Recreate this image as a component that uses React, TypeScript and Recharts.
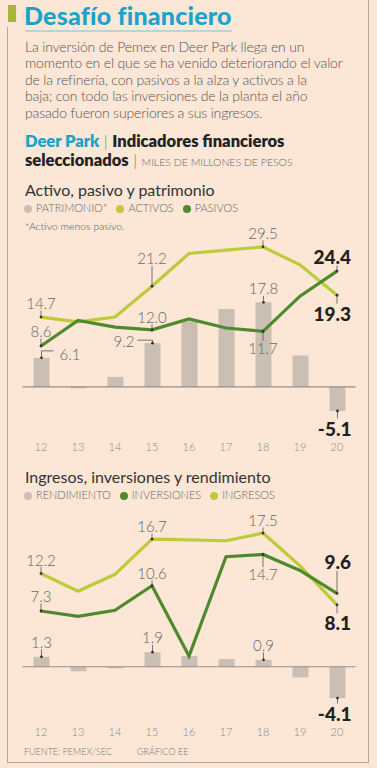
import React from 'react';
import { ComposedChart, Bar, Line, XAxis, YAxis, ReferenceLine, LabelList } from 'recharts';

const years = ['12', '13', '14', '15', '16', '17', '18', '19', '20'];

// Activo, pasivo y patrimonio (miles de millones de pesos)
const patrimonio = [6.1, -0.3, 2.1, 9.2, 13.8, 16.4, 17.8, 6.6, -5.1];
const activos = [14.7, 13.7, 14.7, 21.2, 28.1, 28.8, 29.5, 25.7, 19.3];
const pasivos = [8.6, 14.0, 12.6, 12.0, 14.3, 12.4, 11.7, 19.1, 24.4];

// Ingresos, inversiones y rendimiento
const rendimiento = [1.3, -0.6, -0.2, 1.9, 1.4, 1.0, 0.9, -1.4, -4.1];
const inversiones = [7.3, 6.6, 7.4, 10.6, 1.4, 14.4, 14.7, 12.6, 9.6];
const ingresos = [12.2, 9.9, 12.1, 16.7, 16.6, 16.5, 17.5, 13.2, 8.1];

const BG = '#fce6d5';
const LIGHT = '#bdcb3b';
const DARK = '#4e8a2d';
const BARC = '#cbbfb4';
const GREY = '#5e5e5e';
const FONT = 'Lato, "Open Sans", sans-serif';

type Note = { at: number; side: 'up' | 'down' | 'elbowR' | 'elbowL'; len?: number; bold?: boolean };

const notesPatrimonio: Note[] = [
  { at: 0, side: 'elbowR' },
  { at: 3, side: 'elbowL' },
  { at: 6, side: 'up' },
  { at: 8, side: 'down', len: 17, bold: true },
];
const notesActivos: Note[] = [
  { at: 0, side: 'up' },
  { at: 3, side: 'up', len: 28 },
  { at: 6, side: 'up' },
  { at: 8, side: 'down', len: 18, bold: true },
];
const notesPasivos: Note[] = [
  { at: 0, side: 'up', len: 15 },
  { at: 3, side: 'up', len: 13 },
  { at: 6, side: 'down', len: 17 },
  { at: 8, side: 'up', len: 15, bold: true },
];
const notesRend: Note[] = [
  { at: 0, side: 'up', len: 15 },
  { at: 3, side: 'up', len: 15 },
  { at: 6, side: 'up', len: 15 },
  { at: 8, side: 'down', len: 15, bold: true },
];
const notesInv: Note[] = [
  { at: 0, side: 'up', len: 15 },
  { at: 3, side: 'up', len: 13 },
  { at: 6, side: 'down', len: 20 },
  { at: 8, side: 'up', len: 32, bold: true },
];
const notesIng: Note[] = [
  { at: 0, side: 'up' },
  { at: 3, side: 'up', len: 13 },
  { at: 6, side: 'up', len: 13 },
  { at: 8, side: 'down', len: 18, bold: true },
];

const data1 = years.map((y, i) => ({ year: y, patrimonio: patrimonio[i], activos: activos[i], pasivos: pasivos[i] }));
const data2 = years.map((y, i) => ({ year: y, rendimiento: rendimiento[i], inversiones: inversiones[i], ingresos: ingresos[i] }));

function noteLabel(notes: Note[], bar: boolean) {
  return (props: any) => {
    const n = notes.find((k) => k.at === props.index);
    if (!n) return null;
    const vb = props.viewBox || {};
    const x0 = props.x ?? vb.x;
    const y0 = props.y ?? vb.y;
    const w = props.width ?? vb.width ?? 0;
    const h = props.height ?? vb.height ?? 0;
    const v = Number(props.value);
    let px = x0;
    let py = y0;
    if (bar) {
      px = x0 + w / 2;
      const top = Math.min(y0, y0 + h);
      const bot = Math.max(y0, y0 + h);
      py = v >= 0 ? top : bot;
    }
    const fs = n.bold ? 19 : 15;
    const txtStyle = {
      fontFamily: FONT,
      fontSize: fs,
      fontWeight: n.bold ? 900 : 300,
      fill: n.bold ? '#231f20' : '#666',
    };
    const txt = v.toFixed(1);
    const gap = n.len ?? 14;
    let path = '';
    let tx = px;
    let ty = py;
    let anchor: 'middle' | 'end' | 'start' = 'middle';
    if (n.side === 'up') {
      ty = py - gap;
      path = `M${px},${py}V${ty + fs * 0.5}`;
    } else if (n.side === 'down') {
      ty = py + gap;
      path = `M${px},${py}V${ty - fs * 0.5}`;
    } else if (n.side === 'elbowR') {
      ty = py - 4;
      path = `M${px},${py}V${py - 7}H${px + 12}`;
      tx = px + 18;
      anchor = 'start';
    } else {
      ty = py - 2;
      path = `M${px},${py}V${py - 3}H${px - 15}`;
      tx = px - 18;
      anchor = 'end';
    }
    if (n.bold) {
      tx = px + 14;
      anchor = 'end';
    }
    return (
      <g>
        <path d={path} stroke="#555" strokeWidth={0.8} fill="none" />
        <circle cx={px} cy={py} r={1.4} fill="#333" />
        <text x={tx} y={ty} textAnchor={anchor} dominantBaseline="central" style={txtStyle}>
          {txt}
        </text>
      </g>
    );
  };
}

function T({ x, cy, size, children, style }: { x: number; cy: number; size: number; children: React.ReactNode; style?: React.CSSProperties }) {
  return (
    <div
      style={{
        position: 'absolute',
        left: x,
        top: cy - size * 0.6,
        fontSize: size,
        lineHeight: `${size * 1.2}px`,
        whiteSpace: 'nowrap',
        ...style,
      }}
    >
      {children}
    </div>
  );
}

function Dot({ color }: { color: string }) {
  return (
    <span
      style={{
        display: 'inline-block',
        width: 8,
        height: 8,
        borderRadius: 4,
        background: color,
        marginRight: 4,
        verticalAlign: 'middle',
        position: 'relative',
        top: -1,
      }}
    />
  );
}

const tickStyle = { fill: '#8a8a8a', fontSize: 11, fontFamily: FONT, fontWeight: 300 };

export default function App() {
  const paragraph = [
    'La inversión de Pemex en Deer Park llega en un',
    'momento en el que se ha venido deteriorando el valor',
    'de la refinería, con pasivos a la alza y activos a la',
    'baja; con todo las inversiones de la planta el año',
    'pasado fueron superiores a sus ingresos.',
  ];
  return (
    <div
      style={{
        position: 'absolute',
        left: 0,
        top: 0,
        width: 377,
        height: 768,
        background: BG,
        overflow: 'hidden',
        fontFamily: FONT,
        color: GREY,
      }}
    >
      {/* frame */}
      <div style={{ position: 'absolute', left: 7, top: 27, width: 1, height: 736, background: '#b9a99d' }} />
      <div style={{ position: 'absolute', left: 368, top: 0, width: 1, height: 763, background: '#b9a99d' }} />
      <div style={{ position: 'absolute', left: 7, top: 762, width: 362, height: 1, background: '#b9a99d' }} />
      <div style={{ position: 'absolute', left: 8, top: 5, width: 8, height: 17, background: '#a9b536' }} />
      <div style={{ position: 'absolute', left: 25, top: 30, width: 207, height: 1.5, background: '#b9d3da' }} />

      <T x={24} cy={15} size={25} style={{ fontWeight: 900, color: '#1ba3cc', letterSpacing: 0.2 }}>
        Desafío financiero
      </T>
      {paragraph.map((l, i) => (
        <T key={i} x={25} cy={47 + i * 16.6} size={14} style={{ fontWeight: 300, color: '#555', letterSpacing: -0.15 }}>
          {l}
        </T>
      ))}

      <T x={25} cy={142} size={16.5} style={{ fontWeight: 800, color: '#222' }}>
        <span style={{ color: '#1ba3cc' }}>Deer Park</span>
        <span style={{ fontWeight: 300, color: '#777' }}> | </span>Indicadores financieros
      </T>
      <T x={25} cy={161} size={16.5} style={{ fontWeight: 800, color: '#222' }}>
        seleccionados
        <span style={{ fontWeight: 300, color: '#777' }}> | </span>
        <span style={{ fontWeight: 300, fontSize: 10.5, color: '#666' }}>MILES DE MILLONES DE PESOS</span>
      </T>

      <T x={25} cy={190} size={16} style={{ fontWeight: 400, color: '#333' }}>
        Activo, pasivo y patrimonio
      </T>
      <T x={24} cy={208} size={11} style={{ fontWeight: 300, color: '#666' }}>
        <Dot color={BARC} />
        PATRIMONIO*&nbsp;&nbsp;&nbsp;
        <Dot color={LIGHT} />
        ACTIVOS&nbsp;&nbsp;&nbsp;
        <Dot color={DARK} />
        PASIVOS
      </T>
      <T x={25} cy={226} size={10.5} style={{ fontWeight: 300, color: '#555' }}>
        *Activo menos pasivo.
      </T>

      <div style={{ position: 'absolute', left: 0, top: 215 }}>
        <ComposedChart width={377} height={250} data={data1} margin={{ top: 20, right: 21.5, left: 22.5, bottom: 0 }}>
          <XAxis dataKey="year" axisLine={false} tickLine={false} tickSize={0} tickMargin={4} height={26} tick={tickStyle} interval={0} />
          <YAxis hide domain={[-11, 32]} allowDataOverflow />
          <Bar dataKey="patrimonio" fill={BARC} barSize={16} isAnimationActive={false}>
            <LabelList dataKey="patrimonio" content={noteLabel(notesPatrimonio, true)} />
          </Bar>
          <ReferenceLine y={0} stroke="#978d86" strokeWidth={1.2} />
          <Line dataKey="activos" stroke={LIGHT} strokeWidth={3.2} dot={false} type="linear" isAnimationActive={false}>
            <LabelList dataKey="activos" content={noteLabel(notesActivos, false)} />
          </Line>
          <Line dataKey="pasivos" stroke={DARK} strokeWidth={3.2} dot={false} type="linear" isAnimationActive={false}>
            <LabelList dataKey="pasivos" content={noteLabel(notesPasivos, false)} />
          </Line>
        </ComposedChart>
      </div>

      <T x={25} cy={477} size={16} style={{ fontWeight: 400, color: '#333' }}>
        Ingresos, inversiones y rendimiento
      </T>
      <T x={24} cy={495} size={11} style={{ fontWeight: 300, color: '#666' }}>
        <Dot color={BARC} />
        RENDIMIENTO&nbsp;&nbsp;&nbsp;
        <Dot color={DARK} />
        INVERSIONES&nbsp;&nbsp;&nbsp;
        <Dot color={LIGHT} />
        INGRESOS
      </T>

      <div style={{ position: 'absolute', left: 0, top: 494 }}>
        <ComposedChart width={377} height={256} data={data2} margin={{ top: 20, right: 21.5, left: 22.5, bottom: 0 }}>
          <XAxis dataKey="year" axisLine={false} tickLine={false} tickSize={0} tickMargin={4} height={26} tick={tickStyle} interval={0} />
          <YAxis hide domain={[-7.5, 20]} allowDataOverflow />
          <Bar dataKey="rendimiento" fill={BARC} barSize={16} isAnimationActive={false}>
            <LabelList dataKey="rendimiento" content={noteLabel(notesRend, true)} />
          </Bar>
          <ReferenceLine y={0} stroke="#978d86" strokeWidth={1.2} />
          <Line dataKey="ingresos" stroke={LIGHT} strokeWidth={3.2} dot={false} type="linear" isAnimationActive={false}>
            <LabelList dataKey="ingresos" content={noteLabel(notesIng, false)} />
          </Line>
          <Line dataKey="inversiones" stroke={DARK} strokeWidth={3.2} dot={false} type="linear" isAnimationActive={false}>
            <LabelList dataKey="inversiones" content={noteLabel(notesInv, false)} />
          </Line>
        </ComposedChart>
      </div>

      <T x={24} cy={752} size={9} style={{ fontWeight: 300, color: '#777' }}>
        FUENTE: PEMEX/SEC
      </T>
      <T x={137} cy={752} size={9} style={{ fontWeight: 300, color: '#777' }}>
        GRÁFICO EE
      </T>
    </div>
  );
}
